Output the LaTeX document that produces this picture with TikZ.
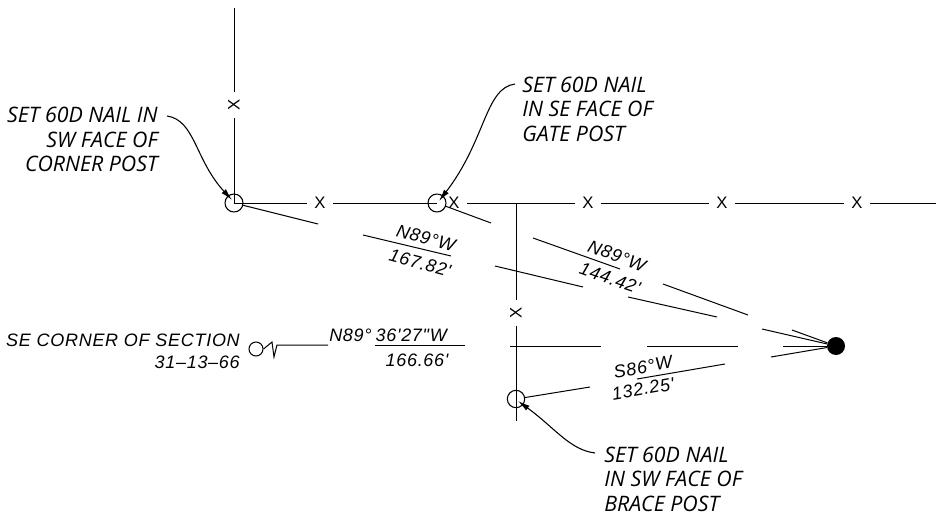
\documentclass[tikz,border=0pt]{standalone}
\usepackage{fontspec}
\setmainfont{Open Sans}
\newfontfamily\cadfont[LetterSpace=4]{Liberation Sans}
\usetikzlibrary{arrows.meta}
\tikzstyle{fenceline} = [line width=0.75pt]
\tikzstyle{callout} = [line width=0.8pt,-{Latex[length=9pt,width=4.4pt]}]
\tikzstyle{post} = [circle, draw=black, line width=0.8pt, minimum size=13.5pt, inner sep=0pt]
\tikzstyle{xmark} = [inner sep=0pt, minimum size=19pt, font=\fontsize{12.5}{12.5}\selectfont\cadfont]
\tikzstyle{note} = [align=left, inner sep=0pt, font=\fontsize{16}{18.3}\selectfont\itshape]
\tikzstyle{cadtext} = [inner sep=0pt, font=\fontsize{13.5}{16.5}\selectfont\cadfont\itshape]

\begin{document}
\begin{tikzpicture}[x=0.75pt,y=-0.75pt]
	\useasboundingbox (0,0) rectangle (936,514);
	% posts and monument
	\node[post](p_1) at (234,203) {};
	\node[post](p_2) at (437,203) {};
	\node[post,minimum size=13pt](p_3) at (516,399) {};
	\node[post,minimum size=10.5pt](p_4) at (256,349) {};
	\node[circle,fill=black,minimum size=13.5pt,inner sep=0pt](dot) at (836,346) {};
	% fence marks
	\node[xmark,rotate=90](x_1) at (234,105) {X};
	\node[xmark](x_2) at (320,203) {X};
	\node[xmark](x_3) at (454,203) {X};
	\node[xmark](x_4) at (588,203) {X};
	\node[xmark](x_5) at (722,203) {X};
	\node[xmark](x_6) at (857,203) {X};
	\node[xmark,rotate=90](x_7) at (516,313) {X};
	% free ends
	\coordinate (f_1) at (234,8);
	\coordinate (f_2) at (936,203);
	\coordinate (f_3) at (516,203);
	\coordinate (f_4) at (516,421);
	\coordinate (f_5) at (510,346);
	\coordinate (f_6) at (601,346);
	\coordinate (f_7) at (647,346);
	\coordinate (f_8) at (738,346);
	\coordinate (f_9) at (783,346);
	\path[fenceline]
	(f_1) edge node {} (x_1)
	(x_1) edge node {} (p_1.center)
	(p_1.center) edge node {} (x_2)
	(x_2) edge node {} (p_2.center)
	(x_3) edge node {} (x_4)
	(x_4) edge node {} (x_5)
	(x_5) edge node {} (x_6)
	(x_6) edge node {} (f_2)
	(f_3) edge node {} (x_7)
	(x_7) edge node {} (f_4)
	(f_5) edge node {} (f_6)
	(f_7) edge node {} (f_8)
	(f_9) edge node {} (dot);
	% tie lines, broken for the labels
	\coordinate (a_1) at (318,224);
	\coordinate (a_2) at (363,235);
	\coordinate (a_3) at (451,256);
	\coordinate (a_4) at (495,266);
	\coordinate (a_5) at (583,287);
	\coordinate (a_6) at (628,297);
	\coordinate (a_7) at (717,317);
	\coordinate (a_8) at (762,329);
	\coordinate (b_1) at (491,223);
	\coordinate (b_2) at (533,238);
	\coordinate (b_3) at (620,269);
	\coordinate (b_4) at (663,284);
	\coordinate (b_5) at (748,315);
	\coordinate (b_6) at (792,330);
	\coordinate (c_1) at (590,387);
	\coordinate (c_2) at (637,379);
	\coordinate (c_3) at (725,364);
	\coordinate (c_4) at (771,357);
	\path[fenceline]
	(p_1) edge node {} (a_1)
	(a_2) edge node {} (a_3)
	(a_4) edge node {} (a_5)
	(a_6) edge node {} (a_7)
	(a_8) edge node {} (dot)
	(p_2) edge node {} (b_1)
	(b_2) edge node {} (b_3)
	(b_4) edge node {} (b_5)
	(b_6) edge node {} (dot)
	(p_3) edge node {} (c_1)
	(c_2) edge node {} (c_3)
	(c_4) edge node {} (dot);
	% section corner tie
	\coordinate (d_1) at (328,345);
	\coordinate (d_2) at (375,345);
	\coordinate (d_3) at (465,345);
	\draw[fenceline] (p_4.east) -- (272,342) -- (274,357) -- (277,345) -- (d_1);
	\draw[fenceline] (d_2) -- (d_3);
	% notes
	\node[note,align=right,anchor=north east](n_1) at (158,107) {SET 60D NAIL IN\\SW FACE OF\\CORNER POST};
	\node[note,anchor=north west](n_2) at (522,76.5) {SET 60D NAIL\\IN SE FACE OF\\GATE POST};
	\node[note,anchor=north west](n_3) at (604,446.5) {SET 60D NAIL\\IN SW FACE OF\\BRACE POST};
	\coordinate (e_1) at (232,200);
	\coordinate (e_2) at (439,201);
	\coordinate (e_3) at (518,401);
	\draw[callout] (n_1.north east) ++(9,9) .. controls (195,120) and (195,160) .. (e_1);
	\draw[callout] (n_2.north west) ++(-7,7.5) .. controls (485,88) and (486,140) .. (e_2);
	\draw[callout] (n_3.north west) ++(-9,6.5) .. controls (570,450) and (555,428) .. (e_3);
	% bearings and distances
	\node[cadtext,align=right,anchor=north east](t_1) at (240,333.5) {SE CORNER OF SECTION\\31–13–66};
	\node[cadtext,anchor=base west](t_2) at (329,341) {N89°\hspace{3pt}36'27"W};
	\node[cadtext,anchor=base](t_3) at (417,366) {166.66'};
	\node[cadtext,rotate=-15](t_4) at (426,238) {N89°W};
	\node[cadtext,rotate=-15](t_5) at (420,263) {167.82'};
	\node[cadtext,rotate=-21](t_6) at (617,256) {N89°W};
	\node[cadtext,rotate=-19](t_7) at (610,278) {144.42'};
	\node[cadtext,rotate=10](t_8) at (643,367) {S86°W};
	\node[cadtext,rotate=10](t_9) at (643,389) {132.25'};
\end{tikzpicture}
\end{document}
